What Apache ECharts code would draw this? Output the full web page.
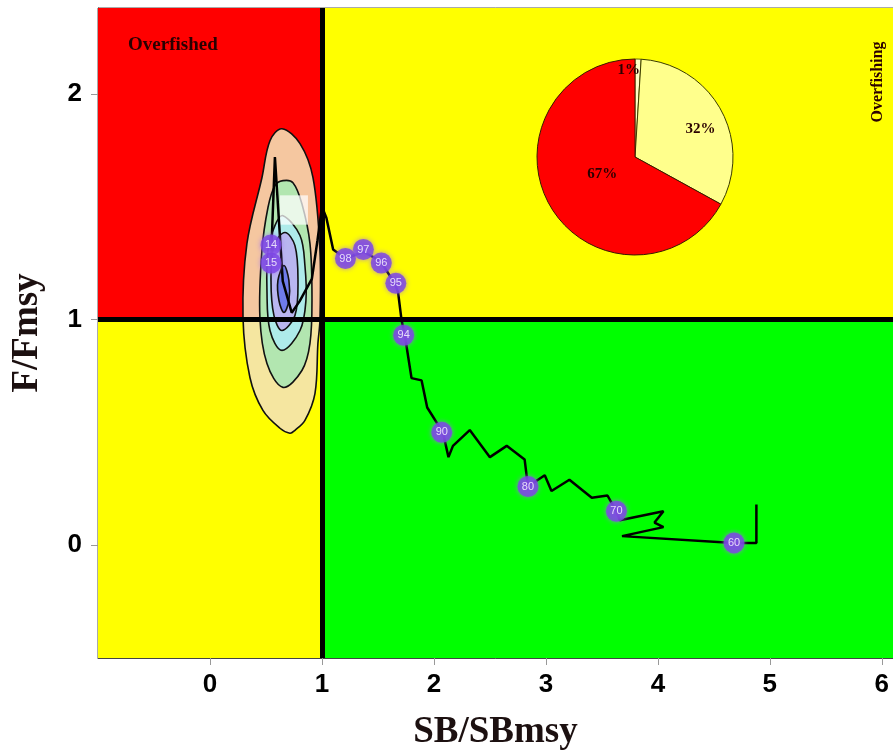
<!DOCTYPE html>
<html><head><meta charset="utf-8">
<script src="https://cdn.jsdelivr.net/npm/echarts@6/dist/echarts.min.js"></script>
<style>html,body{margin:0;padding:0;background:#fff}#c{width:893px;height:751px}</style>
</head><body><div id="c"></div>
<script>
// ---------- data ----------
const xRange = [-1, 6.1];
const yRange = [-0.5, 2.38];
const xTicks = [0, 1, 2, 3, 4, 5, 6];
const yTicks = [0, 1, 2];
const refPoint = [1, 1];

// trajectory SB/SBmsy (x) and F/Fmsy (y), chronological
const trajX = [4.88,4.88,4.68,3.68,4.05,3.97,4.05,3.66,3.63,3.55,3.41,3.21,3.05,2.99,2.84,2.81,2.65,2.50,2.32,2.17,2.13,2.08,1.94,1.89,1.80,1.74,1.71,1.68,1.65,1.52,1.37,1.21,1.10,1.04,1.00,0.96,0.91,0.80,0.73,0.65,0.58,0.55,0.55];
const trajY = [0.18,0.01,0.01,0.04,0.08,0.10,0.15,0.11,0.15,0.22,0.21,0.29,0.24,0.31,0.26,0.38,0.44,0.39,0.51,0.44,0.39,0.50,0.61,0.73,0.74,0.93,1.00,1.12,1.16,1.26,1.30,1.27,1.31,1.45,1.50,1.35,1.18,1.08,1.03,1.17,1.72,1.33,1.25];

// labelled years
const yearLabels = ['60','70','80','90','94','95','96','97','98','14','15'];
const yearX = [4.68,3.63,2.84,2.07,1.73,1.66,1.53,1.37,1.21,0.545,0.545];
const yearY = [0.01,0.15,0.26,0.50,0.93,1.16,1.25,1.31,1.27,1.33,1.25];

// pie of final-year status probabilities
const pieNames = ['1%','32%','67%'];
const pieValues = [1, 32, 67];

// kernel density contours (data units), outer to inner
const contourOuter = [[0.643,1.845],[0.804,1.779],[0.92,1.628],[0.982,1.305],[0.982,0.996],[0.964,0.894],[0.938,0.673],[0.848,0.553],[0.759,0.509],[0.714,0.496],[0.625,0.518],[0.473,0.597],[0.357,0.743],[0.295,1.009],[0.33,1.336],[0.464,1.628],[0.536,1.792]];
const contourL2 = [[0.652,1.615],[0.741,1.606],[0.821,1.513],[0.893,1.336],[0.911,1.097],[0.893,0.894],[0.821,0.774],[0.652,0.699],[0.509,0.805],[0.446,1.009],[0.464,1.305],[0.518,1.496],[0.580,1.593]];
const contourL3 = [[0.652,1.460],[0.804,1.372],[0.848,1.239],[0.857,1.084],[0.804,0.951],[0.643,0.863],[0.536,0.951],[0.509,1.128],[0.518,1.305],[0.580,1.416]];
const contourL4 = [[0.670,1.385],[0.759,1.327],[0.786,1.173],[0.759,1.018],[0.643,0.951],[0.571,1.018],[0.545,1.173],[0.571,1.327]];
const contourL5 = [[0.661,1.239],[0.705,1.173],[0.705,1.084],[0.661,1.031],[0.616,1.084],[0.607,1.173]];
const whitePatch = [[0.625,1.55],[0.875,1.55],[0.875,1.42],[0.625,1.42]];

// ---------- chart ----------
const contours = [contourOuter, contourL2, contourL3, contourL4, contourL5, whitePatch];
const contourFill = ['rgba(244,227,182,0.88)','#B2E6B0','#AEEBEA','#B9B6F0','#6F7CEB','rgba(255,255,255,0.72)'];
const contourStroke = ['#111','#111','#111','#111','#111','none'];
const contourSmooth = [0.35,0.35,0.35,0.35,0.35,0];

const serif = "'Liberation Serif','Times New Roman',serif";
const narrow = "'Liberation Sans Narrow','Arial Narrow','Liberation Sans',Arial,sans-serif";

const zoneColors = { red:'#FF0000', yellow:'#FFFF00', green:'#00FF00' };
const zones = [
  [{xAxis:xRange[0], yAxis:refPoint[1], itemStyle:{color:zoneColors.red, opacity:1}}, {xAxis:refPoint[0], yAxis:yRange[1]}],
  [{xAxis:refPoint[0], yAxis:refPoint[1], itemStyle:{color:zoneColors.yellow, opacity:1}}, {xAxis:xRange[1], yAxis:yRange[1]}],
  [{xAxis:xRange[0], yAxis:yRange[0], itemStyle:{color:zoneColors.yellow, opacity:1}}, {xAxis:refPoint[0], yAxis:refPoint[1]}],
  [{xAxis:refPoint[0], yAxis:yRange[0], itemStyle:{color:zoneColors.green, opacity:1}}, {xAxis:xRange[1], yAxis:refPoint[1]}]
];

const pieLabelShift = [[-8,-35],[20,-3],[12,-9]];
const pieColors = ['#FFFFC8','#FFFF8C','#FF0000'];
const pieBorder = ['#6b6b00','#3a3a00','#3a1a00'];

const chart = echarts.init(document.getElementById('c'), null, {renderer:'canvas'});
chart.setOption({
  animation:false,
  grid:{left:98,right:0,top:8,bottom:93,show:true,borderColor:'#555',borderWidth:1,outerBoundsMode:'none'},
  xAxis:{
    type:'value', min:xRange[0], max:xRange[1], splitLine:{show:false},
    axisLine:{show:true,onZero:false,lineStyle:{color:'#444',width:1}},
    axisTick:{show:true,customValues:xTicks,length:7,lineStyle:{color:'#999'}},
    axisLabel:{customValues:xTicks,fontFamily:narrow,fontWeight:'bold',fontSize:26,color:'#000',margin:14},
    name:'SB/SBmsy', nameLocation:'middle', nameGap:56,
    nameTextStyle:{fontFamily:serif,fontWeight:'bold',fontSize:37,color:'#1c1010'}
  },
  yAxis:{
    type:'value', min:yRange[0], max:yRange[1], splitLine:{show:false},
    axisLine:{show:true,onZero:false,lineStyle:{color:'#444',width:1}},
    axisTick:{show:true,customValues:yTicks,length:7,lineStyle:{color:'#999'}},
    axisLabel:{customValues:yTicks,fontFamily:narrow,fontWeight:'bold',fontSize:26,color:'#000',margin:16},
    name:'F/Fmsy', nameLocation:'middle', nameGap:52,
    nameTextStyle:{fontFamily:serif,fontWeight:'bold',fontSize:37,color:'#1c1010'}
  },
  graphic:[
    {type:'text', left:128, top:36, z:100, style:{text:'Overfished', font:"bold 19px 'Liberation Serif'", fill:'#2a0000'}},
    {type:'text', x:878, y:82, rotation:Math.PI/2, z:100, style:{text:'Overfishing', font:"bold 16px 'Liberation Serif'", fill:'#2a0000', textAlign:'center', textVerticalAlign:'middle'}}
  ],
  series:[
    {type:'scatter', name:'zones', data:[], z:0, silent:true, markArea:{silent:true, data:zones}},
    {type:'custom', name:'density', z:1, silent:true,
      data: contours.map((c,i)=>[i]),
      renderItem:(params, api)=>{
        const i = params.dataIndex;
        const pts = contours[i].map(p=>api.coord(p));
        return {type:'polygon', shape:{points:pts, smooth:contourSmooth[i]},
          style:{fill:contourFill[i], stroke:contourStroke[i], lineWidth:1.6}};
      }},
    {type:'line', name:'ref', data:[], z:2, silent:true,
      markLine:{silent:true, symbol:'none', label:{show:false}, animation:false,
        lineStyle:{color:'#000', width:5, type:'solid'},
        data:[{xAxis:refPoint[0]},{yAxis:refPoint[1]}]}},
    {type:'line', name:'trajectory', z:3, silent:true, showSymbol:false,
      data: trajX.map((x,i)=>[x,trajY[i]]),
      lineStyle:{color:'#000', width:2.5}},
    {type:'scatter', name:'years', z:4, silent:true, symbolSize:21,
      data: yearLabels.map((n,i)=>({name:n, value:[yearX[i],yearY[i]]})),
      itemStyle:{color:'#7A44E4', shadowBlur:5, shadowColor:'#a070f0'},
      label:{show:true, position:'inside', formatter:'{b}', color:'#fff', fontSize:11, fontFamily:'Liberation Sans'}},
    {type:'pie', name:'status', z:10, silent:true, center:[635,157], radius:[0,98],
      startAngle:90, clockwise:true, labelLine:{show:false},
      data: pieNames.map((n,i)=>({name:n, value:pieValues[i],
        itemStyle:{color:pieColors[i], borderColor:pieBorder[i], borderWidth:1}})),
      label:{show:true, position:'inside', formatter:'{b}', fontFamily:serif, fontWeight:'bold', fontSize:15, color:'#2a0000'},
      labelLayout:(p)=>({dx:pieLabelShift[p.dataIndex][0], dy:pieLabelShift[p.dataIndex][1]})}
  ]
});
</script></body></html>
